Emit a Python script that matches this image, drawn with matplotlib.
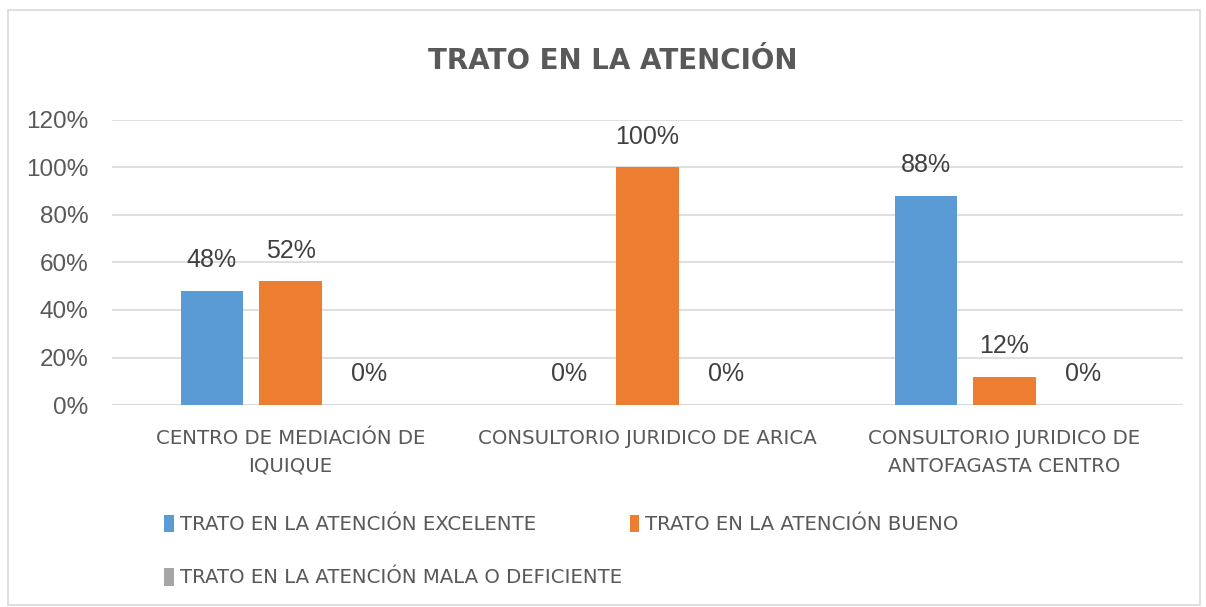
import matplotlib.pyplot as plt
import numpy as np
from matplotlib.patches import Rectangle

categories = ['CENTRO DE MEDIACIÓN DE\nIQUIQUE', 'CONSULTORIO JURIDICO DE ARICA',
              'CONSULTORIO JURIDICO DE\nANTOFAGASTA CENTRO']
series_names = ['TRATO EN LA ATENCIÓN EXCELENTE', 'TRATO EN LA ATENCIÓN BUENO',
                'TRATO EN LA ATENCIÓN MALA O DEFICIENTE']
excelente = [0.48, 0.0, 0.88]
bueno = [0.52, 1.0, 0.12]
mala = [0.0, 0.0, 0.0]
colors = ['#5B9BD5', '#ED7D31', '#A5A5A5']

narrow = ['DejaVu Sans']
plt.rcParams['font.family'] = ['Liberation Sans', 'DejaVu Sans']

fig = plt.figure(figsize=(12.06, 6.07), dpi=100)
fig.patches.append(Rectangle((8 / 1206, 2 / 607), 1192 / 1206, 595 / 607,
                             transform=fig.transFigure, fill=False,
                             edgecolor='#D9D9D9', linewidth=1.2))
ax = fig.add_axes([112 / 1206, 1 - 405 / 607, (1183 - 112) / 1206, 285 / 607])

x = np.arange(len(categories))
width = 0.174
offset = 0.221
bars = []
for i, vals in enumerate([excelente, bueno, mala]):
    b = ax.bar(x + (i - 1) * offset, vals, width, color=colors[i], label=series_names[i], zorder=2)
    bars.append(b)
    for xi, v in zip(x + (i - 1) * offset, vals):
        ax.annotate(f'{v * 100:.0f}%', (xi, v), xytext=(0, 17), textcoords='offset points',
                    ha='center', va='baseline', fontsize=18, color='#404040')

ax.set_xlim(-0.5, 2.5)
ax.set_ylim(0, 1.2)
ax.set_yticks(np.arange(0, 1.21, 0.2))
ax.set_yticklabels([f'{t}%' for t in range(0, 121, 20)])
ax.yaxis.grid(True, color='#D9D9D9', linewidth=1.2, zorder=0)
ax.set_axisbelow(True)
for s in ax.spines.values():
    s.set_visible(False)
ax.axhline(0, color='#D9D9D9', linewidth=1.2, zorder=1)
ax.tick_params(axis='y', length=0, pad=17, labelsize=17.5, labelcolor='#595959')
ax.tick_params(axis='x', length=0, pad=17)
ax.set_xticks(x)
ax.set_xticklabels(categories, fontsize=14.2, color='#595959', family=narrow, linespacing=1.6)

fig.text(0.508, 1 - 61 / 607, 'TRATO EN LA ATENCIÓN', ha='center', va='center',
         fontsize=20, fontweight='bold', color='#595959', family=narrow)

h = [bars[0], bars[2], bars[1]]
labs = [series_names[0], series_names[2], series_names[1]]
fig.legend(h, labs, ncol=2, loc='upper left', bbox_to_anchor=(146 / 1206, 1 - 497 / 607),
           frameon=False, prop={'family': narrow, 'size': 14.2}, labelcolor='#595959',
           handlelength=0.5, handleheight=1.0, handletextpad=0.3, columnspacing=0.4,
           labelspacing=1.7)

fig.savefig('out.png', dpi=100)
